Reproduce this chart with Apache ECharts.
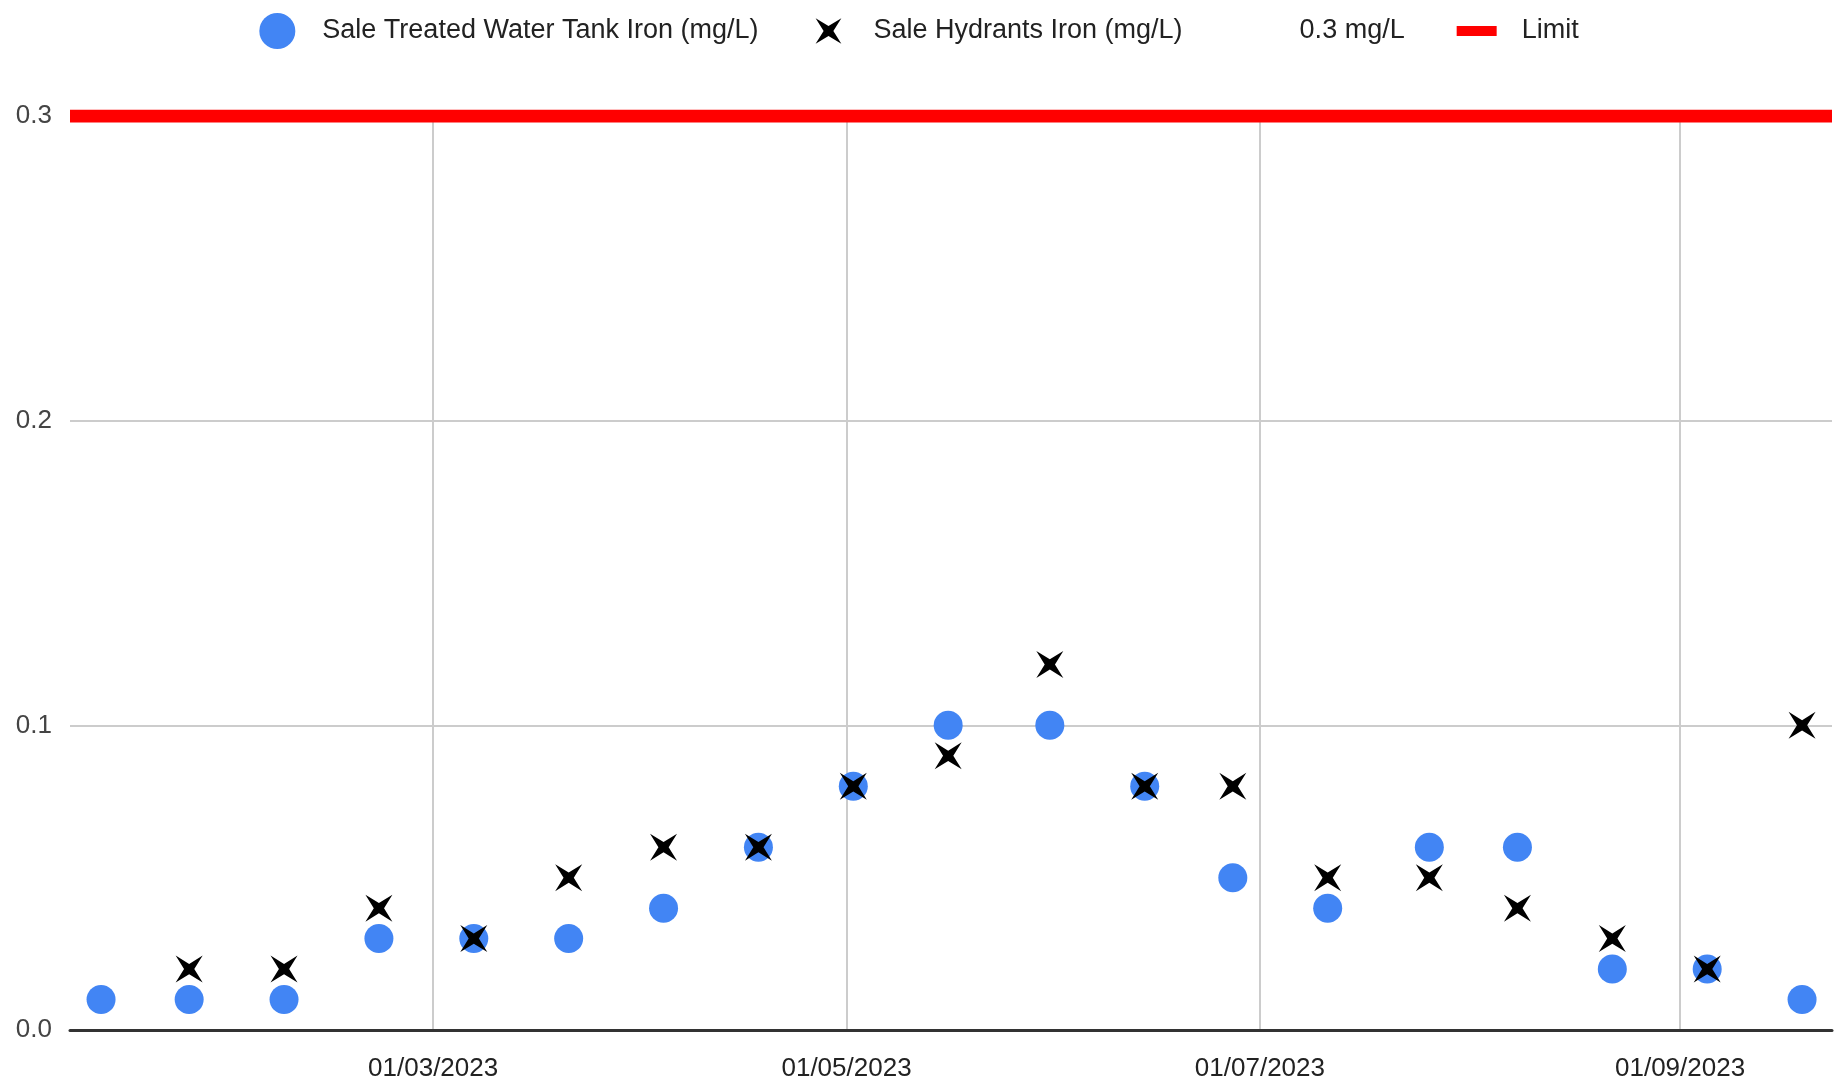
<!DOCTYPE html>
<html>
<head>
<meta charset="utf-8">
<script src="https://cdn.jsdelivr.net/npm/echarts@6/dist/echarts.min.js"></script>
<style>
  html, body { margin: 0; padding: 0; background: #fff; }
  #chart { width: 1838px; height: 1086px; }
</style>
</head>
<body>
<div id="chart"></div>
<script>
// sample dates (fortnightly)
const sampleDates = [
  '2023-01-11', '2023-01-24', '2023-02-07', '2023-02-21', '2023-03-07',
  '2023-03-21', '2023-04-04', '2023-04-18', '2023-05-02', '2023-05-16',
  '2023-05-31', '2023-06-14', '2023-06-27', '2023-07-11', '2023-07-26',
  '2023-08-08', '2023-08-22', '2023-09-05', '2023-09-19'
];
const tankIron = [0.01, 0.01, 0.01, 0.03, 0.03, 0.03, 0.04, 0.06, 0.08, 0.10,
  0.10, 0.08, 0.05, 0.04, 0.06, 0.06, 0.02, 0.02, 0.01];
const hydrantIron = [null, 0.02, 0.02, 0.04, 0.03, 0.05, 0.06, 0.06, 0.08, 0.09,
  0.12, 0.08, 0.08, 0.05, 0.05, 0.04, 0.03, 0.02, 0.10];

const limitValue = 0.3;
const axisStart = '2023-01-06 10:00';
const axisEnd = '2023-09-23 10:00';
const monthTicks = ['2023-03-01', '2023-05-01', '2023-07-01', '2023-09-01'];

const font = "'Liberation Sans', Arial, sans-serif";
const crossPath = 'path://M0,0L5,3.1L10,0L6.9,5L10,10L5,6.9L0,10L3.1,5Z';
// legend icons: extra empty moveTo points keep them smaller than the 40x36 box
const crossLegend = 'path://M-2,-2M0,0L5,3.1L10,0L6.9,5L10,10L5,6.9L0,10L3.1,5ZM12,12';
const limitLegend = 'path://M0,-13M0,0H40V10H0ZM40,23';

const toTime = (s) => echarts.time.parse(s).getTime();
const pad = (n) => (n < 10 ? '0' : '') + n;

const chart = echarts.init(document.getElementById('chart'));

const option = {
  animation: false,
  grid: { left: 70, right: 6, top: 116, bottom: 56, containLabel: false },
  legend: {
    top: 8,
    left: 'center',
    itemWidth: 40,
    itemHeight: 36,
    itemGap: 52,
    textStyle: { fontFamily: font, fontSize: 27, color: '#222', padding: [0, 0, 0, 20] },
    data: [
      { name: 'Sale Treated Water Tank Iron (mg/L)' },
      { name: 'Sale Hydrants Iron (mg/L)', icon: crossLegend },
      { name: '0.3 mg/L', icon: 'none' },
      { name: 'Limit', icon: limitLegend }
    ]
  },
  xAxis: {
    type: 'value',
    min: toTime(axisStart),
    max: toTime(axisEnd),
    axisLine: { onZero: false, lineStyle: { color: '#333', width: 3 } },
    axisTick: { show: false, customValues: monthTicks.map(toTime) },
    axisLabel: {
      customValues: monthTicks.map(toTime),
      fontFamily: font,
      fontSize: 26,
      color: '#222',
      margin: 26,
      formatter: (v) => {
        const d = new Date(v);
        return pad(d.getDate()) + '/' + pad(d.getMonth() + 1) + '/' + d.getFullYear();
      }
    },
    splitLine: { show: true, lineStyle: { color: '#cccccc', width: 2 } }
  },
  yAxis: {
    type: 'value',
    min: 0,
    max: 0.3,
    interval: 0.1,
    axisLine: { show: false },
    axisTick: { show: false },
    axisLabel: {
      fontFamily: font,
      fontSize: 26,
      color: '#444',
      margin: 18,
      formatter: (v) => v.toFixed(1)
    },
    splitLine: { lineStyle: { color: '#cccccc', width: 2 } }
  },
  series: [
    {
      name: 'Limit',
      type: 'line',
      symbol: 'none',
      data: [[toTime(axisStart), limitValue], [toTime(axisEnd), limitValue]],
      lineStyle: { color: '#ff0000', width: 13 },
      itemStyle: { color: '#ff0000' },
      z: 3
    },
    {
      name: '0.3 mg/L',
      type: 'line',
      symbol: 'none',
      data: [],
      lineStyle: { width: 0 }
    },
    {
      name: 'Sale Treated Water Tank Iron (mg/L)',
      type: 'scatter',
      symbol: 'circle',
      symbolSize: 29,
      itemStyle: { color: '#4285f4', opacity: 1 },
      data: sampleDates.map((d, i) => [toTime(d), tankIron[i]]),
      z: 4
    },
    {
      name: 'Sale Hydrants Iron (mg/L)',
      type: 'scatter',
      symbol: crossPath,
      symbolSize: 27,
      itemStyle: { color: '#000', opacity: 1 },
      data: sampleDates.map((d, i) => [toTime(d), hydrantIron[i]]).filter((p) => p[1] != null),
      z: 5
    }
  ]
};

chart.setOption(option);
</script>
</body>
</html>
